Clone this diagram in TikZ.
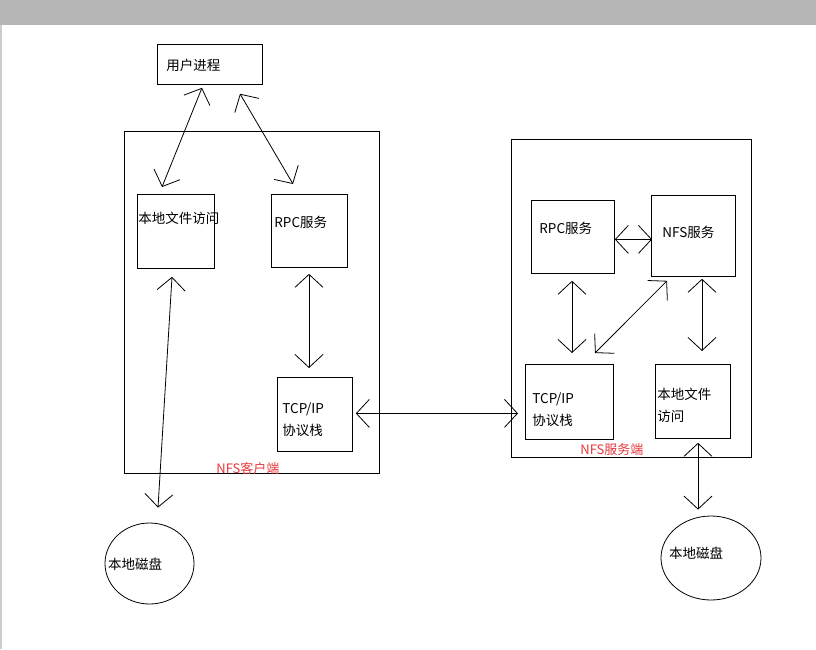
\documentclass[tikz,border=0pt]{standalone}
\usepackage{fontspec}
\setmainfont{Noto Sans CJK SC}
\usepackage{tikz}
\usetikzlibrary{
  positioning,
  shapes.geometric,
  arrows.meta
}
\definecolor{barcolor}{HTML}{B5B6B5}
\definecolor{nfsred}{HTML}{E8383D}

\begin{document}
\begin{tikzpicture}[x=1pt,y=-1pt,line width=0.8pt,
    >={Straight Barb[length=13pt,width=28pt]},
    box/.style={draw,rectangle,anchor=north west,inner sep=0pt},
    txt/.style={anchor=west,inner sep=0pt,align=left,font=\fontsize{13.5}{22}\selectfont},
    redtxt/.style={anchor=west,inner sep=0pt,text=nfsred,font=\fontsize{13}{14}\selectfont},
    disk/.style={draw,ellipse,inner sep=0pt}]

    % page frame
    \fill[white] (0,0) rectangle (816,649);
    \useasboundingbox (0,0) rectangle (816,649);
    \fill[barcolor] (0,0) rectangle (816,25);
    \fill[barcolor!70] (0,25) rectangle (1.5,649);

    % user process
    \node[box,minimum width=105pt,minimum height=40pt] (proc) at (157,44) {};
    \node[txt] (proc-t) at ([shift={(9,21)}]proc.north west) {用户进程};

    % NFS client
    \node[box,minimum width=255pt,minimum height=342pt] (client) at (124,131) {};
    \node[box,minimum width=77pt,minimum height=74pt] (cfile) at (137,194) {};
    \node[txt] (cfile-t) at ([shift={(1,24)}]cfile.north west) {本地文件访问};
    \node[box,minimum width=76pt,minimum height=73pt] (crpc) at (271,194) {};
    \node[txt] (crpc-t) at ([shift={(3,28)}]crpc.north west) {RPC服务};
    \node[box,minimum width=75pt,minimum height=74pt] (ctcp) at (277,377) {};
    \node[txt] (ctcp-t) at ([shift={(5,43)}]ctcp.north west) {TCP/IP\\协议栈};
    \node[redtxt] (client-t) at ([shift={(92,-5)}]client.south west) {NFS客户端};

    % NFS server
    \node[box,minimum width=240pt,minimum height=318pt] (server) at (511,139) {};
    \node[box,minimum width=83pt,minimum height=73pt] (srpc) at (531,200) {};
    \node[txt] (srpc-t) at ([shift={(8,28)}]srpc.north west) {RPC服务};
    \node[box,minimum width=84pt,minimum height=81pt] (snfs) at (651,195) {};
    \node[txt] (snfs-t) at ([shift={(11,37)}]snfs.north west) {NFS服务};
    \node[box,minimum width=88pt,minimum height=75pt] (stcp) at (525,364) {};
    \node[txt] (stcp-t) at ([shift={(7,46)}]stcp.north west) {TCP/IP\\协议栈};
    \node[box,minimum width=75pt,minimum height=74pt] (sfile) at (655,364) {};
    \node[txt] (sfile-t) at ([shift={(2,41)}]sfile.north west) {本地文件\\访问};
    \node[redtxt] (server-t) at ([shift={(69,-8)}]server.south west) {NFS服务端};

    % disks
    \node[disk,minimum width=89pt,minimum height=81pt] (cdisk) at (149.5,563.5) {};
    \node[txt] (cdisk-t) at ([shift={(3,0.5)}]cdisk.west) {本地磁盘};
    \node[disk,minimum width=100pt,minimum height=84pt] (sdisk) at (711,558) {};
    \node[txt] (sdisk-t) at ([shift={(8,-5)}]sdisk.west) {本地磁盘};

    % client side
    \draw[<->] ([shift={(45,3)}]proc.south west) -- ([shift={(25,-7)}]cfile.north west);
    \draw[<->] ([shift={(83,9)}]proc.south west) -- ([shift={(22,-10)}]crpc.north west);
    \draw[<->] ([shift={(35,8)}]cfile.south west) -- ([shift={(8.5,-15)}]cdisk.north);
    \draw[<->] ([shift={(38,6)}]crpc.south west) -- ([shift={(32,-9)}]ctcp.north west);
    \draw[<->] ([shift={(3,-1)}]ctcp.east) -- ([shift={(-7,11.5)}]stcp.west);

    % server side
    \draw[<->] ([shift={(0,2.5)}]srpc.east) -- ([shift={(1,3.5)}]snfs.west);
    \draw[<->] ([shift={(41,7)}]srpc.south west) -- ([shift={(47,-11)}]stcp.north west);
    \draw[<->] ([shift={(16,4)}]snfs.south west) -- ([shift={(70,-11)}]stcp.north west);
    \draw[<->] ([shift={(51,2)}]snfs.south west) -- ([shift={(47,-13)}]sfile.north west);
    \draw[<->] ([shift={(43,4)}]sfile.south west) -- ([shift={(-13,-6)}]sdisk.north);
\end{tikzpicture}
\end{document}
